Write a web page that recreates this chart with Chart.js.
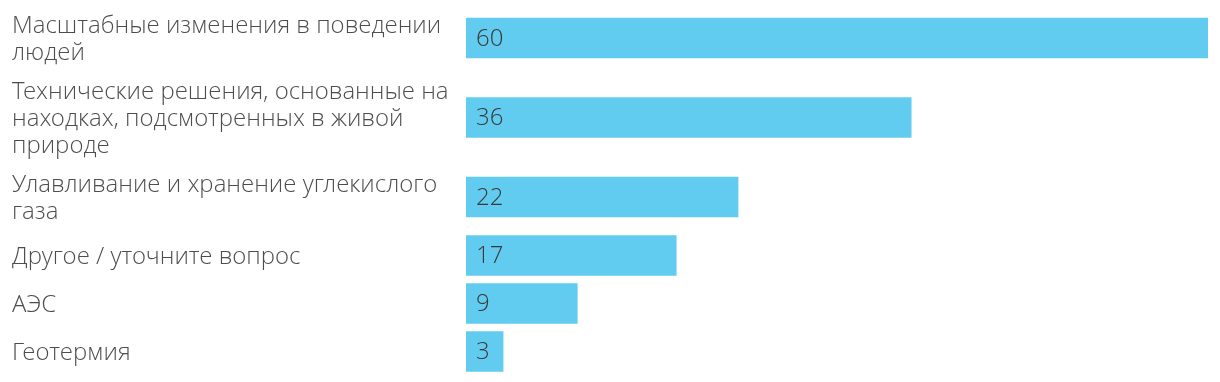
<!DOCTYPE html>
<html>
<head>
<meta charset="utf-8">
<script src="https://cdn.jsdelivr.net/npm/chart.js@4/dist/chart.umd.min.js"></script>
<style>
html,body{margin:0;padding:0;background:#fff;}
#wrap{width:1220px;height:382px;position:relative;}
</style>
</head>
<body>
<div id="wrap"><canvas id="c"></canvas></div>
<script>
const categories = [
  ["Масштабные изменения в поведении", "людей"],
  ["Технические решения, основанные на", "находках, подсмотренных в живой", "природе"],
  ["Улавливание и хранение углекислого", "газа"],
  ["Другое / уточните вопрос"],
  ["АЭС"],
  ["Геотермия"]
];
const values = [60, 36, 22, 17, 9, 3];

// row heights derived from the number of label lines
const rowH = categories.map(l => 27 + 21 * l.length);
const centers = [];
let acc = 0;
rowH.forEach(h => { centers.push(acc + h / 2); acc += h; });
const total = acc;

const FONT = "'Open Sans Light', 'Open Sans', sans-serif";

const valueLabels = {
  id: 'valueLabels',
  afterDatasetsDraw(chart) {
    const ctx = chart.ctx;
    const meta = chart.getDatasetMeta(0);
    ctx.save();
    ctx.font = "300 24px " + FONT;
    ctx.fillStyle = '#3a3a3a';
    ctx.textAlign = 'left';
    ctx.textBaseline = 'middle';
    meta.data.forEach((bar, i) => {
      ctx.fillText(String(values[i]), bar.base + 10, bar.y + 1.5);
    });
    ctx.restore();
  }
};

new Chart(document.getElementById('c'), {
  type: 'bar',
  data: {
    datasets: [{
      data: values.map((v, i) => ({ x: v, y: centers[i] })),
      backgroundColor: '#61CCEF',
      borderWidth: 0,
      barThickness: 40
    }]
  },
  options: {
    indexAxis: 'y',
    responsive: true,
    maintainAspectRatio: false,
    animation: false,
    layout: { padding: { left: 12, right: 12, top: 3.5, bottom: 6.5 } },
    plugins: { legend: { display: false }, tooltip: { enabled: false } },
    scales: {
      x: { type: 'linear', min: 0, max: 60, display: false },
      y: {
        type: 'linear',
        reverse: true,
        offset: false,
        min: 0,
        max: total,
        grid: { display: false },
        border: { display: false },
        afterBuildTicks(scale) { scale.ticks = centers.map(v => ({ value: v })); },
        afterFit(scale) { scale.width = 454; scale.paddingTop = 0; scale.paddingBottom = 0; },
        ticks: {
          crossAlign: 'far',
          padding: 0,
          labelOffset: 2.5,
          autoSkip: false,
          color: '#4d4d4d',
          font: { family: FONT, size: 24, weight: 300, lineHeight: 1.125 },
          callback(value, index) { return categories[index]; }
        }
      }
    }
  },
  plugins: [valueLabels]
});
</script>
</body>
</html>
